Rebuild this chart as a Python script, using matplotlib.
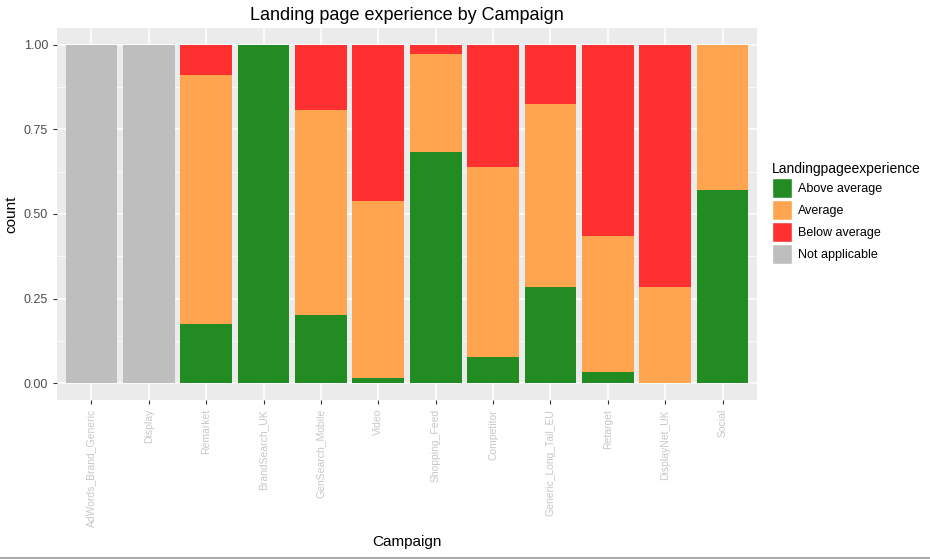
import matplotlib.pyplot as plt
import matplotlib.patches as patches
import numpy as np

plt.rcParams['font.family'] = ['Liberation Sans', 'DejaVu Sans']

# campaign names are blurred in the reference, placeholders of similar length
campaigns = ["AdWords_Brand_Generic", "Display", "Remarket", "BrandSearch_UK", "GenSearch_Mobile",
             "Video", "Shopping_Feed", "Competitor", "Generic_Long_Tail_EU", "Retarget", "DisplayNet_UK", "Social"]
above = [0.0, 0.0, 0.175, 1.0, 0.201, 0.015, 0.683, 0.077, 0.284, 0.033, 0.0, 0.571]
average = [0.0, 0.0, 0.736, 0.0, 0.607, 0.523, 0.290, 0.562, 0.541, 0.402, 0.284, 0.429]
below = [0.0, 0.0, 0.089, 0.0, 0.192, 0.462, 0.027, 0.361, 0.175, 0.565, 0.716, 0.0]
not_app = [1.0, 1.0, 0, 0, 0, 0, 0, 0, 0, 0, 0, 0]

levels = ["Above average", "Average", "Below average", "Not applicable"]
colors = ["#228B22", "#FFA54F", "#FF3030", "#BEBEBE"]

fig = plt.figure(figsize=(9.3, 5.59), dpi=100)
ax = fig.add_axes([57/930, (559-400)/559, 700/930, 372/559])
ax.set_facecolor("#EBEBEB")

x = np.arange(1, len(campaigns) + 1)
bottom = np.zeros(len(campaigns))
for vals, col in zip([above, average, below, not_app], colors):
    ax.bar(x, vals, width=0.9, bottom=bottom, color=col, zorder=3)
    bottom += np.array(vals)

ax.set_xlim(0.4, 12.6)
ax.set_ylim(-0.05, 1.05)
ax.set_yticks([0, 0.25, 0.5, 0.75, 1.0])
ax.set_yticklabels(["0.00", "0.25", "0.50", "0.75", "1.00"])
ax.set_yticks([0.125, 0.375, 0.625, 0.875], minor=True)
ax.set_xticks(x)
ax.set_xticklabels(campaigns, rotation=90, fontsize=7.5)

ax.grid(True, which="major", color="white", linewidth=1.1, zorder=0)
ax.grid(True, which="minor", axis="y", color="white", linewidth=0.5, zorder=0)
ax.set_axisbelow(True)
for s in ax.spines.values():
    s.set_visible(False)
ax.tick_params(which="major", length=3, color="#333333", labelcolor="#4D4D4D", labelsize=9)
ax.tick_params(axis="x", labelcolor="#C8C8C8", labelsize=7.5)
ax.tick_params(which="minor", length=0)

ax.set_ylabel("count", fontsize=11)
ax.yaxis.set_label_coords(-(57 - 18) / 700, 0.5)
ax.set_title("Landing page experience by Campaign", fontsize=13, pad=6)
fig.text(407/930, 1 - 542/559, "Campaign", fontsize=11, ha="center", va="center")

handles = [patches.Patch(facecolor=c, edgecolor="white", label=l) for c, l in zip(colors, levels)]
leg = fig.legend(handles=handles, loc="upper left", bbox_to_anchor=(764/930, 1 - 155/559),
                 title="Landingpageexperience", frameon=False, fontsize=9, title_fontsize=10,
                 handlelength=1.6, handleheight=2.1, handletextpad=0.5, labelspacing=0.15,
                 borderaxespad=0.2)
leg._legend_box.align = "left"

fig.add_artist(plt.Line2D([0, 1], [0.002, 0.002], color="#AAAAAA", linewidth=1.5))

plt.savefig("out.png", dpi=100)
